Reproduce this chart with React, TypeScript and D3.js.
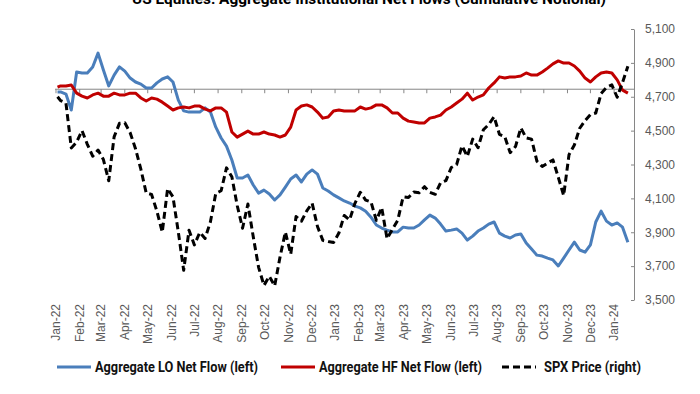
import React, { Component } from "react";
import * as d3 from "d3";

// weekly points (Fridays), first point is the Jan 3 2022 start
const startDate = new Date(2022, 0, 3);
const weekDates: Date[] = [startDate].concat(
  d3.timeFriday.range(new Date(2022, 0, 7), new Date(2024, 0, 20))
);

// cumulative net flows, left axis (hidden), $bn
const loFlow = [
  -0.9, -0.9, -1.6, -6.9, 5.7, 5.4, 5.4, 7.4, 12.0, 6.4,
  1.1, 4.7, 7.4, 6.0, 3.7, 2.4, 1.7, 0.4, 0.4, 2.1,
  3.4, 4.1, 2.4, -3.6, -7.2, -7.6, -7.6, -7.6, -6.2, -7.6,
  -12.6, -16.2, -18.9, -23.5, -29.5, -29.5, -28.5, -31.8, -34.5, -33.5,
  -34.8, -36.8, -35.1, -32.5, -29.8, -28.5, -30.8, -28.2, -26.8, -28.2,
  -32.8, -33.8, -35.1, -36.1, -37.1, -37.8, -38.8, -39.4, -40.5, -42.5,
  -45.1, -46.1, -46.8, -47.4, -47.4, -45.8, -46.1, -46.1, -45.1, -43.4,
  -41.8, -42.8, -44.8, -47.1, -46.8, -46.4, -47.8, -50.1, -48.8, -47.1,
  -46.1, -44.8, -44.1, -47.8, -48.8, -49.4, -48.4, -48.1, -51.1, -53.1,
  -55.1, -55.4, -56.1, -56.7, -58.7, -56.1, -53.4, -50.8, -53.4, -54.1,
  -51.7, -44.1, -40.5, -43.8, -45.1, -44.4, -45.8, -50.8,
];

const hfFlow = [
  0.7, 1.1, 1.1, 1.4, -1.3, -2.3, -2.9, -1.9, -1.3, -2.3,
  -2.3, -1.3, -1.9, -1.9, -1.3, -1.3, -2.9, -3.9, -2.9, -3.3,
  -4.3, -5.6, -6.9, -6.2, -5.9, -6.2, -5.6, -5.6, -6.6, -7.2,
  -6.2, -6.2, -7.6, -14.2, -15.9, -14.9, -13.9, -14.9, -14.9, -14.2,
  -14.9, -15.2, -15.9, -15.2, -12.6, -6.9, -5.6, -5.2, -5.9, -7.6,
  -9.6, -9.2, -7.2, -6.9, -7.2, -7.2, -7.2, -5.9, -6.6, -6.2,
  -5.2, -5.2, -6.2, -7.9, -7.9, -9.6, -10.6, -10.9, -11.2, -11.2,
  -9.6, -9.2, -8.6, -6.9, -5.9, -4.6, -3.3, -1.3, -3.6, -2.6,
  -1.9, 0.4, 2.1, 4.1, 3.7, 4.1, 4.1, 4.4, 5.4, 4.7,
  4.7, 5.7, 7.0, 8.4, 9.4, 8.7, 8.7, 7.7, 6.0, 3.7,
  2.4, 4.1, 5.4, 5.7, 5.4, 3.1, -0.3, -1.3,
];

// SPX price, right axis
const spxPrice = [
  4700,
  4677, 4663, 4398, 4432, 4500, 4419, 4349, 4385, 4329, 4204,
  4463, 4543, 4546, 4488, 4393, 4272, 4132, 4123, 4024, 3901,
  4158, 4109, 3901, 3675, 3912, 3825, 3899, 3863, 3962, 4130,
  4145, 4280, 4228, 4058, 3924, 4067, 3873, 3693, 3586, 3640,
  3583, 3753, 3901, 3771, 3993, 3965, 4026, 4072, 3934, 3852,
  3845, 3840,
  3895, 3999, 3973, 4071, 4136, 4090, 4079, 3970, 4046, 3862,
  3917, 3971, 4109, 4105, 4138, 4133, 4169, 4136, 4124, 4192,
  4205, 4282, 4299, 4410, 4348, 4450, 4399, 4505, 4536, 4582,
  4478, 4464, 4370, 4406, 4516, 4457, 4450, 4320, 4288, 4308,
  4327, 4224, 4117, 4358, 4415, 4514, 4559, 4595, 4604, 4719,
  4755, 4770,
  4697, 4784, 4880,
];

const rightTicks = [3500, 3700, 3900, 4100, 4300, 4500, 4700, 4900, 5100];

const titleText = "US Equities: Aggregate Institutional Net Flows (Cumulative Notional)";
const legendItems = [
  { name: "Aggregate LO Net Flow (left)", color: "#4a7ebb", dash: null },
  { name: "Aggregate HF Net Flow (left)", color: "#c00000", dash: null },
  { name: "SPX Price (right)", color: "#000000", dash: "7,4" },
];

type Pt = { date: Date; value: number };

class FlowsChart extends Component {
  svgRef = React.createRef<SVGSVGElement>();

  componentDidMount() {
    this.drawChart();
  }

  drawChart = () => {
    const svg = d3.select(this.svgRef.current);
    svg.selectAll("*").remove();

    const top = 29, bottom = 300, left = 56, right = 634;
    const n = Math.min(weekDates.length, loFlow.length, hfFlow.length, spxPrice.length);
    const toPts = (vals: number[]): Pt[] =>
      vals.slice(0, n).map((v, i) => ({ date: weekDates[i], value: v }));

    const x = d3.scaleTime()
      .domain([new Date(2022, 0, 1), new Date(2024, 0, 27)])
      .range([left, right]);
    const yLeft = d3.scaleLinear().domain([-70, 20]).range([bottom, top]);
    const yRight = d3.scaleLinear().domain([3500, 5100]).range([bottom, top]);

    // title (cut off at the top)
    svg.append("text")
      .attr("x", 369)
      .attr("y", 4)
      .attr("text-anchor", "middle")
      .attr("font-family", "Roboto, 'Liberation Sans', sans-serif")
      .attr("font-weight", "bold")
      .attr("font-size", 14)
      .attr("textLength", 474)
      .attr("lengthAdjust", "spacingAndGlyphs")
      .attr("fill", "#000")
      .text(titleText);

    // zero line of the left axis, with month ticks
    const zeroY = yLeft(0);
    svg.append("line")
      .attr("x1", left - 1).attr("x2", right)
      .attr("y1", zeroY).attr("y2", zeroY)
      .attr("stroke", "#868686").attr("stroke-width", 1);

    const months = d3.timeMonth.range(new Date(2022, 0, 1), new Date(2024, 0, 2));
    svg.append("g").selectAll("line")
      .data(months)
      .enter().append("line")
      .attr("x1", d => x(d)).attr("x2", d => x(d))
      .attr("y1", zeroY).attr("y2", zeroY + 4)
      .attr("stroke", "#868686").attr("stroke-width", 1);

    // month labels at the bottom
    const fmt = d3.timeFormat("%b-%y");
    svg.append("g").selectAll("text")
      .data(months)
      .enter().append("text")
      .attr("transform", d => "translate(" + x(d) + ",304) rotate(-90)")
      .attr("text-anchor", "end")
      .attr("dy", "0.35em")
      .attr("font-family", "'Liberation Sans', Arial, sans-serif")
      .attr("font-size", 12)
      .attr("fill", "#595959")
      .text(d => fmt(d));

    // right axis
    const axis = svg.append("g")
      .attr("transform", "translate(" + right + ",0)")
      .call(
        d3.axisRight(yRight)
          .tickValues(rightTicks)
          .tickFormat(d3.format(","))
          .tickSizeInner(-3)
          .tickSizeOuter(0)
          .tickPadding(11)
      );
    axis.select(".domain").attr("stroke", "#868686");
    axis.selectAll(".tick line").attr("stroke", "#868686");
    axis.selectAll(".tick text")
      .attr("font-family", "'Liberation Sans', Arial, sans-serif")
      .attr("font-size", 12)
      .attr("fill", "#595959");

    // series
    const lineLeft = d3.line<Pt>().x(d => x(d.date)).y(d => yLeft(d.value));
    const lineRight = d3.line<Pt>().x(d => x(d.date)).y(d => yRight(d.value));

    svg.append("path")
      .datum(toPts(loFlow))
      .attr("d", lineLeft)
      .attr("fill", "none")
      .attr("stroke", legendItems[0].color)
      .attr("stroke-width", 3)
      .attr("stroke-linejoin", "round");

    svg.append("path")
      .datum(toPts(hfFlow))
      .attr("d", lineLeft)
      .attr("fill", "none")
      .attr("stroke", legendItems[1].color)
      .attr("stroke-width", 3)
      .attr("stroke-linejoin", "round");

    svg.append("path")
      .datum(toPts(spxPrice))
      .attr("d", lineRight)
      .attr("fill", "none")
      .attr("stroke", legendItems[2].color)
      .attr("stroke-width", 3)
      .attr("stroke-dasharray", "7,4")
      .attr("stroke-linejoin", "round");

    // legend
    const legendX = [57, 281, 502];
    const legendW = [163, 163, 97];
    const legY = 367;
    const leg = svg.append("g").selectAll("g")
      .data(legendItems)
      .enter().append("g")
      .attr("transform", (d, i) => "translate(" + legendX[i] + "," + legY + ")");
    leg.append("line")
      .attr("x1", 0).attr("x2", 34)
      .attr("stroke", d => d.color)
      .attr("stroke-width", 3)
      .attr("stroke-dasharray", d => d.dash);
    leg.append("text")
      .attr("x", (d, i) => (i === 2 ? 42 : 38))
      .attr("y", 5)
      .attr("font-family", "Roboto, 'Liberation Sans', sans-serif")
      .attr("font-weight", "bold")
      .attr("font-size", 14)
      .attr("textLength", (d, i) => legendW[i])
      .attr("lengthAdjust", "spacingAndGlyphs")
      .attr("fill", "#111")
      .text(d => d.name);
  };

  render() {
    return (
      <svg
        ref={this.svgRef}
        width={700}
        height={394}
        style={{ position: "absolute", left: 0, top: 0, background: "#fff" }}
      />
    );
  }
}

export default function App() {
  return <FlowsChart />;
}
